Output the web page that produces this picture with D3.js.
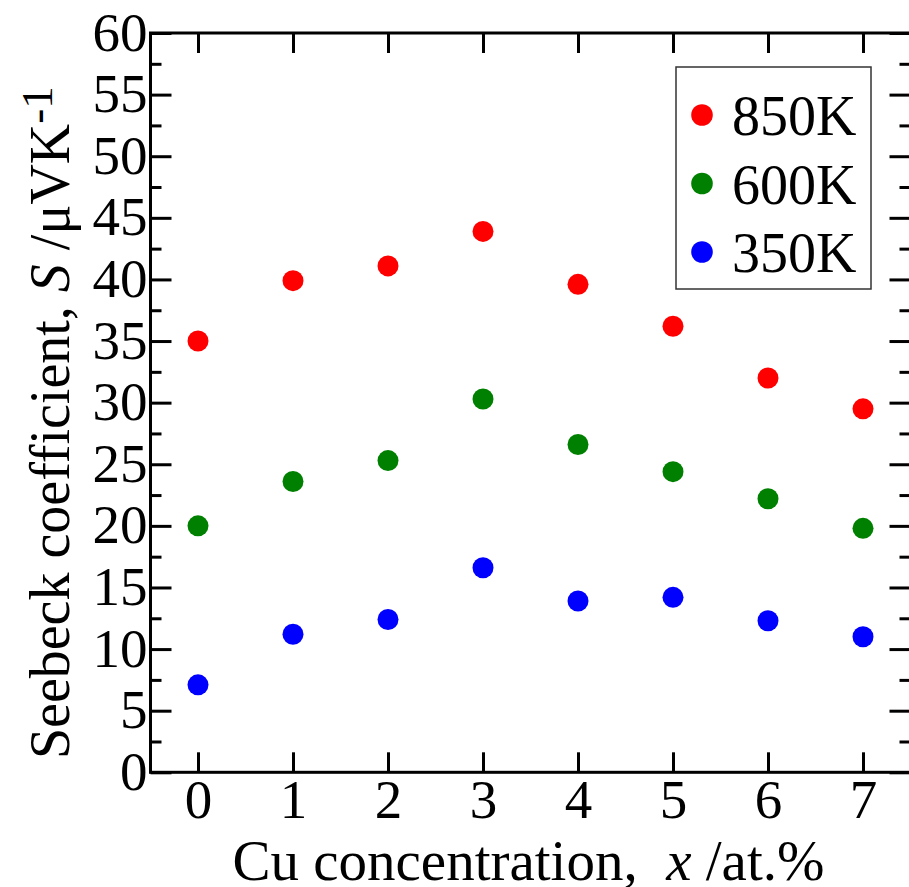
<!DOCTYPE html>
<html>
<head>
<meta charset="utf-8">
<script src="https://cdn.jsdelivr.net/npm/d3@7"></script>
<style>
  body { margin: 0; background: #fff; }
  svg { display: block; }
  text { font-family: "Liberation Serif", "Times New Roman", serif; fill: #000; }
</style>
</head>
<body>
<div id="chart"></div>
<script>
// Cu concentration x (at.%)
const conc = [0, 1, 2, 3, 4, 5, 6, 7];
// Seebeck coefficient S (uV/K) at each temperature
const s850 = [35.0, 39.9, 41.1, 43.9, 39.6, 36.2, 32.0, 29.5];
const s600 = [20.0, 23.6, 25.3, 30.3, 26.6, 24.4, 22.2, 19.8];
const s350 = [7.1, 11.2, 12.4, 16.6, 13.9, 14.2, 12.3, 11.0];
const seriesNames = ["850K", "600K", "350K"];
const seriesColors = ["#ff0000", "#008000", "#0000ff"];
const yTicks = d3.range(0, 61, 5);
const yMinor = d3.range(2.5, 60, 5);

const W = 909, H = 887;
const plot = {left: 150.5, right: 910.5, top: 33, bottom: 772.3};

const svg = d3.select("#chart").append("svg")
  .attr("width", W)
  .attr("height", H);

let x = d3.scaleLinear().domain([-0.5, 7.5]).range([plot.left, plot.right]);
let y = d3.scaleLinear().domain([0, 60]).range([plot.bottom, plot.top]);

function styleAxis(g) {
  g.select(".domain").remove();
  g.selectAll(".tick line").attr("stroke", "#000").attr("stroke-width", 3);
  g.selectAll(".tick text").attr("font-size", 55).attr("fill", "#000");
}

// bottom axis
svg.append("g")
  .attr("transform", "translate(0," + plot.bottom + ")")
  .call(d3.axisBottom(x).tickValues(conc).tickSize(-20).tickPadding(0).tickFormat(d3.format("d")))
  .call(styleAxis)
  .call(g => g.selectAll(".tick text").attr("dy", null).attr("y", 46));

// top axis
svg.append("g")
  .attr("transform", "translate(0," + plot.top + ")")
  .call(d3.axisTop(x).tickValues(conc).tickSize(-20).tickFormat(""))
  .call(styleAxis);

// left axis
svg.append("g")
  .attr("transform", "translate(" + plot.left + ",0)")
  .call(d3.axisLeft(y).tickValues(yTicks).tickSize(-21).tickPadding(3).tickFormat(d3.format("d")))
  .call(styleAxis)
  .call(g => g.selectAll(".tick text").attr("dy", null).attr("y", 17));

svg.append("g")
  .attr("transform", "translate(" + plot.left + ",0)")
  .call(d3.axisLeft(y).tickValues(yMinor).tickSize(-11).tickFormat(""))
  .call(styleAxis);

// right axis
svg.append("g")
  .attr("transform", "translate(" + plot.right + ",0)")
  .call(d3.axisRight(y).tickValues(yTicks).tickSize(-21).tickFormat(""))
  .call(styleAxis);

svg.append("g")
  .attr("transform", "translate(" + plot.right + ",0)")
  .call(d3.axisRight(y).tickValues(yMinor).tickSize(-11).tickFormat(""))
  .call(styleAxis);

// frame
svg.append("rect")
  .attr("x", plot.left).attr("y", plot.top)
  .attr("width", plot.right - plot.left).attr("height", plot.bottom - plot.top)
  .attr("fill", "none").attr("stroke", "#000").attr("stroke-width", 3);

// points
const allSeries = [s850, s600, s350];
allSeries.forEach(function (vals, i) {
  svg.append("g")
    .selectAll("circle")
    .data(vals)
    .enter()
    .append("circle")
      .attr("cx", (d, j) => x(conc[j]))
      .attr("cy", d => y(d))
      .attr("r", 10.5)
      .attr("fill", seriesColors[i]);
});

// legend
const leg = svg.append("g");
leg.append("rect")
  .attr("x", 676).attr("y", 67)
  .attr("width", 195).attr("height", 222)
  .attr("fill", "#fff").attr("stroke", "#333").attr("stroke-width", 1.5);

const legY = d3.scalePoint().domain(seriesNames).range([135, 272]);
seriesNames.forEach(function (name, i) {
  leg.append("circle")
    .attr("cx", 702)
    .attr("cy", legY(name) - 20)
    .attr("r", 10.8)
    .attr("fill", seriesColors[i]);
  leg.append("text")
    .attr("x", 732)
    .attr("y", legY(name))
    .attr("font-size", 56)
    .text(name);
});

// x axis label
const xl = svg.append("text")
  .attr("x", (plot.left + plot.right) / 2 - 2)
  .attr("y", 880)
  .attr("text-anchor", "middle")
  .attr("font-size", 57);
xl.append("tspan").text("Cu concentration,\u00a0 ");
xl.append("tspan").attr("font-style", "italic").text("x");
xl.append("tspan").text(" /at.%");

// y axis label
const yl = svg.append("text")
  .attr("transform", "translate(69," + ((plot.top + plot.bottom) / 2 + 20) + ") rotate(-90)")
  .attr("text-anchor", "middle")
  .attr("font-size", 56);
yl.append("tspan").text("Seebeck coefficient, ");
yl.append("tspan").attr("font-style", "italic").text("S");
yl.append("tspan").text(" /\u03bcVK");
yl.append("tspan").attr("font-size", 45).attr("dy", -17).text("-1");
</script>
</body>
</html>
